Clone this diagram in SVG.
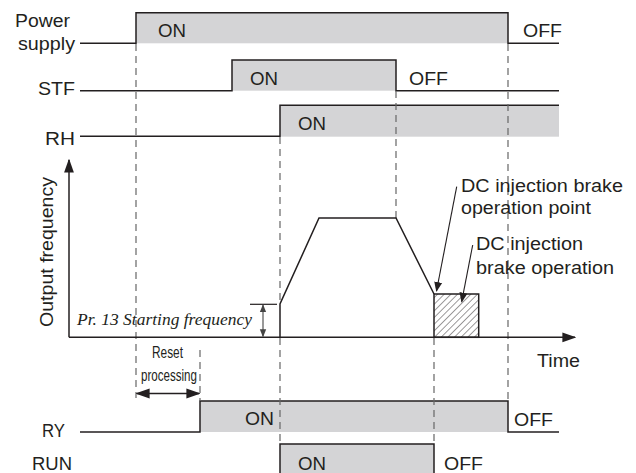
<svg xmlns="http://www.w3.org/2000/svg" width="636" height="473" viewBox="0 0 636 473">
<style>
text{font-family:"Liberation Sans",Arial,sans-serif;font-size:17.5px;fill:#231f20}
.it{font-family:"Liberation Serif","Times New Roman",serif;font-style:italic;font-size:17px}
.nar{font-size:16px}
.sig{fill:none;stroke:#231f20;stroke-width:1.5}
.fill{fill:#d4d4d6;stroke:none}
.dash{stroke:#666;stroke-width:1.2;stroke-dasharray:7 5;fill:none}
.ln{stroke:#231f20;stroke-width:1.5;fill:none}
</style>
<defs>
<marker id="ah" viewBox="0 0 10 10" refX="9" refY="5" markerWidth="10" markerHeight="10" markerUnits="userSpaceOnUse" orient="auto-start-reverse"><path d="M0,1 L10,5 L0,9 z" fill="#231f20"/></marker>
<marker id="ahs" viewBox="0 0 10 10" refX="9" refY="5" markerWidth="8" markerHeight="8" markerUnits="userSpaceOnUse" orient="auto-start-reverse"><path d="M0,1 L10,5 L0,9 z" fill="#444"/></marker>
<marker id="ahb" viewBox="0 0 10 10" refX="9" refY="5" markerWidth="14" markerHeight="14" markerUnits="userSpaceOnUse" orient="auto-start-reverse"><path d="M0,1.5 L10,5 L0,8.5 z" fill="#231f20"/></marker>
<pattern id="hatch" patternUnits="userSpaceOnUse" width="4.7" height="4.7" patternTransform="rotate(45)"><line x1="0" y1="0" x2="0" y2="4.7" stroke="#231f20" stroke-width="0.9"/></pattern>
</defs>

<g id="power">
<rect class="fill" x="136" y="12.7" width="372" height="30.6"/>
<path class="sig" d="M80,43.3 H136 V12.7 H508 V43.3 H559"/>
<text x="15" y="27" textLength="55" lengthAdjust="spacingAndGlyphs">Power</text>
<text x="18" y="50" textLength="57" lengthAdjust="spacingAndGlyphs">supply</text>
<text x="158" y="36.7" textLength="28" lengthAdjust="spacingAndGlyphs">ON</text>
<text x="523" y="36.7" textLength="39" lengthAdjust="spacingAndGlyphs">OFF</text>
</g>

<g id="stf">
<rect class="fill" x="232" y="60" width="164" height="30.7"/>
<path class="sig" d="M80,90.7 H232 V60 H396 V90.7 H559"/>
<text x="38" y="95" textLength="37" lengthAdjust="spacingAndGlyphs">STF</text>
<text x="250" y="85" textLength="28" lengthAdjust="spacingAndGlyphs">ON</text>
<text x="409" y="85" textLength="39" lengthAdjust="spacingAndGlyphs">OFF</text>
</g>

<g id="rh">
<rect class="fill" x="280" y="105.3" width="279" height="31.4"/>
<path class="sig" d="M80,136.3 H280 V105.3 H559"/>
<text x="45" y="145" textLength="30" lengthAdjust="spacingAndGlyphs">RH</text>
<text x="298" y="130" textLength="28" lengthAdjust="spacingAndGlyphs">ON</text>
</g>

<g id="ry">
<rect class="fill" x="200" y="401" width="308" height="31"/>
<path class="sig" d="M80,432 H200 V401 H508 V432 H559"/>
<text x="42" y="437" textLength="23" lengthAdjust="spacingAndGlyphs">RY</text>
<text x="245" y="425" textLength="29" lengthAdjust="spacingAndGlyphs">ON</text>
<text x="514" y="426" textLength="39" lengthAdjust="spacingAndGlyphs">OFF</text>
</g>

<g id="run">
<rect class="fill" x="280" y="444" width="154" height="30"/>
<path class="sig" d="M280,474 V444 H434 V474"/>
<text x="32" y="470" textLength="40" lengthAdjust="spacingAndGlyphs">RUN</text>
<text x="298" y="470" textLength="28" lengthAdjust="spacingAndGlyphs">ON</text>
<text x="444" y="470" textLength="39" lengthAdjust="spacingAndGlyphs">OFF</text>
</g>

<g id="connectors">
<line class="dash" x1="136" y1="44" x2="136" y2="398"/>
<line class="dash" x1="200" y1="350" x2="200" y2="401"/>
<line class="dash" x1="280" y1="137" x2="280" y2="304"/>
<line class="dash" x1="280" y1="338" x2="280" y2="444"/>
<line class="dash" x1="396" y1="91" x2="396" y2="218"/>
<line class="dash" x1="508" y1="44" x2="508" y2="401"/>
<line class="dash" x1="434" y1="338" x2="434" y2="444"/>
</g>

<g id="axes">
<line class="ln" x1="69" y1="337.3" x2="69" y2="160" marker-end="url(#ahb)"/>
<line class="ln" x1="69" y1="337.3" x2="575" y2="337.3" marker-end="url(#ahb)"/>
<text transform="translate(53,252) rotate(-90)" text-anchor="middle" textLength="150" lengthAdjust="spacingAndGlyphs">Output frequency</text>
<text x="537" y="367" textLength="43" lengthAdjust="spacingAndGlyphs">Time</text>
</g>

<g id="frequency-curve">
<path class="ln" d="M280,337.3 V304 L319,218 H396 L434,294"/>
<rect x="434" y="294" width="44.7" height="43.3" fill="url(#hatch)" stroke="#231f20" stroke-width="1.5"/>
</g>

<g id="starting-frequency">
<line x1="250" y1="304.3" x2="277" y2="304.3" stroke="#231f20" stroke-width="1.2"/>
<line x1="263" y1="305" x2="263" y2="336.5" stroke="#555" stroke-width="1.2" marker-start="url(#ahs)" marker-end="url(#ahs)"/>
<text class="it" x="77" y="325" textLength="175" lengthAdjust="spacingAndGlyphs">Pr. 13 Starting frequency</text>
</g>

<g id="reset-processing">
<text class="nar" x="152" y="358" textLength="31" lengthAdjust="spacingAndGlyphs">Reset</text>
<text class="nar" x="141" y="381" textLength="56" lengthAdjust="spacingAndGlyphs">processing</text>
<line class="ln" x1="137" y1="393.5" x2="199" y2="393.5" marker-start="url(#ahb)" marker-end="url(#ahb)"/>
</g>

<g id="dc-brake-point">
<line x1="456.7" y1="186.7" x2="436.5" y2="291" stroke="#231f20" stroke-width="1.1" marker-end="url(#ah)"/>
<text x="461" y="192" textLength="162" lengthAdjust="spacingAndGlyphs">DC injection brake</text>
<text x="461" y="214" textLength="130" lengthAdjust="spacingAndGlyphs">operation point</text>
</g>

<g id="dc-brake-operation">
<line x1="472.7" y1="245" x2="461.7" y2="301.7" stroke="#231f20" stroke-width="1.1" marker-end="url(#ah)"/>
<text x="476" y="250" textLength="107" lengthAdjust="spacingAndGlyphs">DC injection</text>
<text x="476" y="274" textLength="138" lengthAdjust="spacingAndGlyphs">brake operation</text>
</g>
</svg>
